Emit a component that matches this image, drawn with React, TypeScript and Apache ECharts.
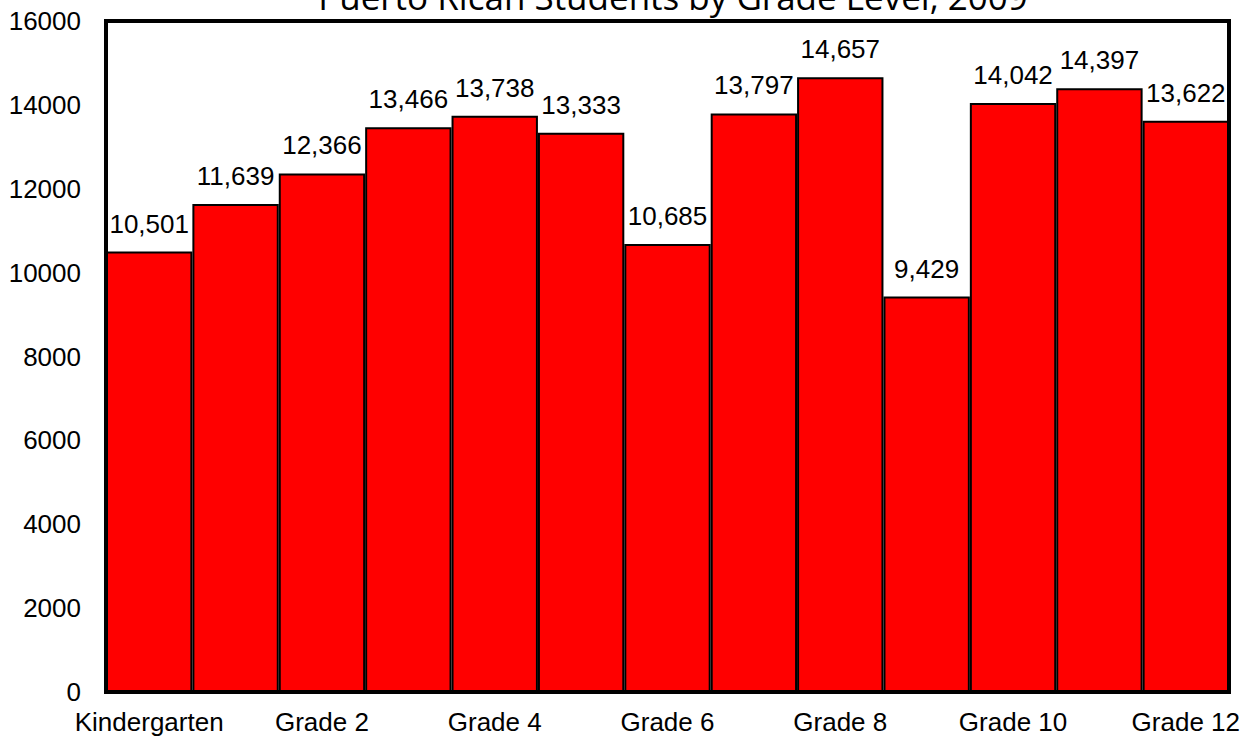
import React, { useEffect, useRef } from "react";
import * as echarts from "echarts";

const categories = [
  "Kindergarten", "Grade 1", "Grade 2", "Grade 3", "Grade 4", "Grade 5", "Grade 6",
  "Grade 7", "Grade 8", "Grade 9", "Grade 10", "Grade 11", "Grade 12",
];
const students = [10501, 11639, 12366, 13466, 13738, 13333, 10685, 13797, 14657, 9429, 14042, 14397, 13622];
const titleText = "Puerto Rican Students by Grade Level, 2009";
const yMax = 16000;
const yStep = 2000;

const GRID = { left: 106, right: 19, top: 21, bottom: 48 };
const FONT = "Liberation Sans, Arial, sans-serif";

export default function App() {
  const ref = useRef<HTMLDivElement>(null);
  useEffect(() => {
    if (!ref.current) return;
    const chart = echarts.init(ref.current, null, { renderer: "svg" });
    const plotW = 1248 - GRID.left - GRID.right;
    const plotH = 740 - GRID.top - GRID.bottom;
    chart.setOption({
      animation: false,
      backgroundColor: "#ffffff",
      grid: { ...GRID, containLabel: false },
      xAxis: {
        type: "category",
        data: categories,
        axisLine: { show: false },
        axisTick: { show: false },
        axisLabel: {
          interval: 1,
          margin: 17,
          color: "#000",
          fontFamily: FONT,
          fontSize: 26,
        },
      },
      yAxis: {
        type: "value",
        min: 0,
        max: yMax,
        interval: yStep,
        splitLine: { show: false },
        axisLine: { show: false },
        axisTick: { show: false },
        axisLabel: {
          margin: 25,
          color: "#000",
          fontFamily: FONT,
          fontSize: 26,
          formatter: (v: number) => String(v),
        },
      },
      series: [
        {
          type: "bar",
          data: students,
          barCategoryGap: "0%",
          itemStyle: { color: "#ff0000", borderColor: "#000", borderWidth: 2 },
          label: {
            show: true,
            position: "top",
            distance: 15,
            color: "#000",
            fontFamily: FONT,
            fontSize: 26,
            formatter: (p: any) => Number(p.value).toLocaleString("en-US"),
          },
        },
      ],
      graphic: [
        {
          type: "rect",
          z: 100,
          shape: { x: GRID.left, y: GRID.top, width: plotW, height: plotH },
          style: { fill: "none", stroke: "#000", lineWidth: 4 },
          silent: true,
        },
        {
          type: "text",
          z: 100,
          x: 673,
          y: 14,
          style: {
            text: titleText,
            fill: "#000",
            font: "35px 'Open Sans', sans-serif",
            textAlign: "center",
            textVerticalAlign: "bottom",
          },
          silent: true,
        },
      ],
    });
    return () => chart.dispose();
  }, []);
  return (
    <div
      ref={ref}
      style={{ position: "fixed", left: 0, top: 0, width: 1248, height: 740 }}
    />
  );
}
